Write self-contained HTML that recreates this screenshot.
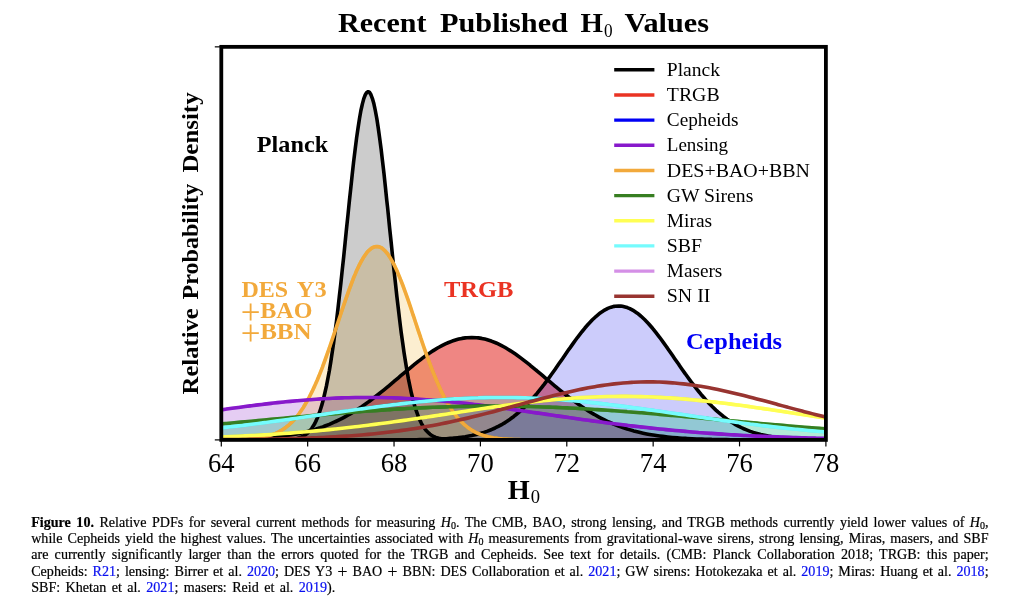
<!DOCTYPE html>
<html><head><meta charset="utf-8"><title>Recent Published H0 Values</title>
<style>
html,body{margin:0;padding:0;background:#fff;}
body{width:1024px;height:603px;position:relative;overflow:hidden;font-family:"Liberation Serif",serif;}
.ln{position:absolute;left:31.2px;width:957.4px;font-size:14.1px;line-height:16px;height:16px;color:#000;text-align:justify;text-align-last:justify;white-space:nowrap;-webkit-text-stroke:0.2px;}
.ln.last{width:304px;}
.ln sub{font-size:10px;vertical-align:baseline;position:relative;top:2.2px;line-height:0;}
.b{color:#0a10f0;}
.p{font-size:18.4px;line-height:0;position:relative;top:2.6px;-webkit-text-stroke:0;}
</style></head><body>
<svg width="1024" height="603" viewBox="0 0 1024 603" style="position:absolute;left:0;top:0">
<defs><clipPath id="ax"><rect x="221.3" y="46.85" width="604.5999999999999" height="393.04999999999995"/></clipPath><filter id="p3" x="0" y="0" width="1024" height="603" filterUnits="userSpaceOnUse" color-interpolation-filters="linearRGB"><feColorMatrix type="matrix" values="0.8225 0.1774 0 0 0  0.0332 0.9669 0 0 0  0.0171 0.0724 0.9108 0 0  0 0 0 1 0"/></filter></defs>
<g filter="url(#p3)"><g clip-path="url(#ax)" fill="none" stroke-width="3.6" stroke-linejoin="round">
<rect x="219.3" y="44.85" width="608.5999999999999" height="397.04999999999995" fill="#fff" stroke="none"/>
<path d="M212.7,439.70 L217.3,439.65 L219.1,439.63 L222.2,439.58 L225.6,439.53 L227.1,439.50 L232.0,439.41 L232.1,439.40 L236.8,439.29 L238.6,439.24 L241.7,439.14 L245.1,439.03 L246.6,438.97 L251.5,438.76 L256.4,438.51 L258.0,438.42 L261.3,438.22 L264.5,438.00 L266.2,437.87 L271.0,437.47 L271.1,437.46 L276.0,436.97 L277.4,436.82 L280.9,436.41 L283.9,436.02 L285.8,435.76 L290.4,435.06 L290.7,435.01 L295.6,434.15 L296.9,433.90 L300.5,433.17 L303.4,432.53 L305.4,432.05 L309.8,430.91 L310.3,430.79 L315.2,429.38 L316.3,429.02 L320.1,427.80 L322.8,426.84 L324.9,426.04 L329.3,424.34 L329.8,424.10 L334.7,421.96 L335.7,421.50 L339.6,419.63 L342.2,418.32 L344.5,417.10 L348.7,414.78 L349.4,414.36 L354.3,411.43 L355.2,410.89 L359.2,408.29 L361.7,406.65 L364.1,404.97 L368.1,402.09 L369.0,401.46 L373.9,397.80 L374.6,397.25 L378.8,393.99 L381.1,392.15 L383.7,390.05 L387.6,386.86 L388.6,386.02 L393.5,381.92 L394.0,381.43 L398.4,377.78 L400.5,375.96 L403.3,373.65 L407.0,370.51 L408.2,369.55 L413.0,365.53 L413.5,365.18 L417.9,361.63 L420.0,360.07 L422.8,357.90 L426.4,355.27 L427.7,354.36 L432.6,351.07 L432.9,350.88 L437.5,348.05 L439.4,346.99 L442.4,345.36 L445.9,343.67 L447.3,343.02 L452.2,341.07 L452.3,341.01 L457.1,339.52 L458.8,339.07 L462.0,338.39 L465.3,337.89 L466.9,337.72 L471.8,337.49 L476.7,337.72 L478.3,337.89 L481.6,338.39 L484.7,339.07 L486.5,339.52 L491.2,341.01 L491.4,341.07 L496.2,343.02 L497.7,343.67 L501.1,345.36 L504.2,346.99 L506.0,348.05 L510.6,350.88 L510.9,351.07 L515.8,354.36 L517.1,355.27 L520.7,357.90 L523.6,360.07 L525.6,361.63 L530.1,365.18 L530.5,365.53 L535.4,369.55 L536.6,370.51 L540.3,373.65 L543.0,375.96 L545.2,377.78 L549.5,381.43 L550.1,381.92 L555.0,386.02 L556.0,386.86 L559.9,390.05 L562.5,392.15 L564.8,393.99 L568.9,397.25 L569.7,397.80 L574.6,401.46 L575.4,402.09 L579.5,404.97 L581.9,406.65 L584.3,408.29 L588.4,410.89 L589.2,411.43 L594.1,414.36 L594.9,414.78 L599.0,417.10 L601.3,418.32 L603.9,419.63 L607.8,421.50 L608.8,421.96 L613.7,424.10 L614.3,424.34 L618.6,426.04 L620.8,426.84 L623.5,427.80 L627.2,429.02 L628.4,429.38 L633.3,430.79 L633.7,430.91 L638.2,432.05 L640.2,432.53 L643.1,433.17 L646.7,433.90 L648.0,434.15 L652.9,435.01 L653.2,435.06 L657.8,435.76 L659.6,436.02 L662.7,436.41 L666.1,436.82 L667.6,436.97 L672.4,437.46 L672.6,437.47 L677.3,437.87 L679.1,438.00 L682.2,438.22 L685.5,438.42 L687.1,438.51 L692.0,438.76 L692.0,438.76 L696.9,438.97 L698.5,439.03 L701.8,439.14 L705.0,439.24 L706.7,439.29 L711.5,439.40 L711.6,439.41 L716.5,439.50 L717.9,439.53 L721.4,439.58 L724.4,439.63 L726.3,439.65 L730.9,439.70 L731.2,439.70 L736.1,439.74 L737.4,439.75 L741.0,439.78 L743.8,439.79 L745.9,439.80 L750.3,439.82 L750.8,439.83 L755.7,439.84 L756.8,439.85 L760.5,439.86 L763.3,439.86 L765.4,439.87 L769.8,439.87 L776.2,439.88 L782.7,439.89 L789.2,439.89 L795.7,439.89 L802.1,439.90 L808.6,439.90 L815.1,439.90 L821.6,439.90 L828.1,439.90 L834.5,439.90 L834.5,439.9 L212.7,439.9 Z" fill="#ff0000" fill-opacity="0.5" stroke="none"/>
<path d="M212.7,439.90 L219.1,439.90 L225.6,439.90 L232.1,439.90 L238.6,439.90 L245.1,439.90 L251.5,439.90 L258.0,439.90 L264.5,439.90 L271.0,439.90 L277.4,439.90 L283.9,439.90 L290.4,439.90 L296.9,439.90 L303.4,439.90 L309.8,439.90 L316.3,439.90 L322.8,439.90 L329.3,439.90 L335.7,439.90 L342.2,439.90 L348.7,439.90 L355.2,439.90 L361.7,439.90 L368.1,439.89 L374.6,439.89 L381.1,439.88 L387.6,439.87 L394.0,439.86 L397.8,439.84 L400.5,439.83 L401.5,439.82 L405.3,439.80 L407.0,439.79 L409.0,439.77 L412.8,439.74 L413.5,439.73 L416.5,439.69 L420.0,439.64 L420.2,439.64 L424.0,439.57 L426.4,439.52 L427.7,439.49 L431.5,439.38 L432.9,439.34 L435.2,439.25 L439.0,439.10 L439.4,439.08 L442.7,438.91 L445.9,438.72 L446.4,438.68 L450.2,438.41 L452.3,438.23 L453.9,438.09 L457.7,437.70 L458.8,437.57 L461.4,437.24 L465.2,436.70 L465.3,436.68 L468.9,436.07 L471.8,435.52 L472.6,435.34 L476.4,434.49 L478.3,434.02 L480.1,433.51 L483.9,432.38 L484.7,432.10 L487.6,431.10 L491.2,429.70 L491.4,429.64 L495.1,427.99 L497.7,426.73 L498.8,426.14 L502.6,424.07 L504.2,423.13 L506.3,421.78 L510.1,419.24 L510.6,418.82 L513.8,416.45 L517.1,413.76 L517.6,413.40 L521.3,410.08 L523.6,407.91 L525.0,406.51 L528.8,402.66 L530.1,401.27 L532.5,398.56 L536.3,394.22 L536.6,393.87 L540.0,389.64 L543.0,385.78 L543.8,384.84 L547.5,379.86 L549.5,377.11 L551.2,374.71 L555.0,369.44 L556.0,368.00 L558.7,364.08 L562.5,358.67 L566.2,353.26 L568.9,349.34 L570.0,347.91 L573.7,342.65 L575.4,340.28 L577.4,337.55 L581.2,332.66 L581.9,331.75 L584.9,328.04 L588.4,324.05 L588.7,323.73 L592.4,319.79 L594.9,317.44 L596.2,316.27 L599.9,313.21 L601.3,312.17 L603.6,310.65 L607.4,308.63 L607.8,308.43 L611.1,307.16 L614.3,306.37 L614.9,306.27 L618.6,305.98 L620.8,306.08 L622.4,306.27 L626.1,307.16 L627.2,307.55 L629.8,308.63 L633.6,310.65 L633.7,310.74 L637.3,313.21 L640.2,315.53 L641.1,316.27 L644.8,319.79 L646.7,321.71 L648.6,323.73 L652.3,328.04 L653.2,329.08 L656.0,332.66 L659.6,337.36 L659.8,337.55 L663.5,342.65 L666.1,346.28 L667.3,347.91 L671.0,353.26 L672.6,355.55 L674.7,358.67 L678.5,364.08 L679.1,364.91 L682.2,369.44 L685.5,374.11 L686.0,374.71 L689.7,379.86 L692.0,382.95 L693.5,384.84 L697.2,389.64 L698.5,391.25 L700.9,394.22 L704.7,398.56 L705.0,398.89 L708.4,402.66 L711.5,405.79 L712.2,406.51 L715.9,410.08 L717.9,411.90 L719.7,413.40 L723.4,416.45 L724.4,417.22 L727.1,419.24 L730.9,421.78 L730.9,421.78 L734.6,424.07 L737.4,425.61 L738.4,426.14 L742.1,427.99 L743.8,428.78 L745.9,429.64 L749.6,431.10 L750.3,431.36 L753.3,432.38 L756.8,433.43 L757.1,433.51 L760.8,434.49 L763.3,435.06 L764.6,435.34 L768.3,436.07 L769.8,436.33 L772.1,436.70 L775.8,437.24 L776.2,437.30 L779.5,437.70 L782.7,438.03 L783.3,438.09 L787.0,438.41 L789.2,438.58 L790.8,438.68 L794.5,438.91 L795.7,438.97 L798.3,439.10 L802.0,439.25 L802.1,439.26 L805.7,439.38 L808.6,439.46 L809.5,439.49 L813.2,439.57 L815.1,439.61 L817.0,439.64 L820.7,439.69 L821.6,439.71 L824.5,439.74 L828.1,439.77 L828.2,439.77 L831.9,439.80 L834.5,439.82 L834.5,439.9 L212.7,439.9 Z" fill="#0000ff" fill-opacity="0.2" stroke="none"/>
<path d="M212.7,411.02 L214.7,410.73 L219.1,410.10 L225.6,409.19 L226.5,409.07 L232.1,408.29 L238.3,407.45 L238.6,407.41 L245.1,406.55 L250.1,405.90 L251.5,405.71 L258.0,404.90 L261.9,404.43 L264.5,404.12 L271.0,403.37 L273.7,403.07 L277.4,402.66 L283.9,401.98 L285.5,401.82 L290.4,401.34 L296.9,400.74 L297.3,400.70 L303.4,400.19 L309.1,399.73 L309.8,399.68 L316.3,399.22 L320.9,398.92 L322.8,398.81 L329.3,398.45 L332.7,398.28 L335.7,398.14 L342.2,397.89 L344.5,397.81 L348.7,397.69 L355.2,397.55 L356.3,397.53 L361.7,397.46 L368.1,397.44 L374.6,397.46 L379.9,397.53 L381.1,397.55 L387.6,397.69 L391.7,397.81 L394.0,397.89 L400.5,398.14 L403.5,398.28 L407.0,398.45 L413.5,398.81 L415.3,398.92 L420.0,399.22 L426.4,399.68 L427.2,399.73 L432.9,400.19 L439.0,400.70 L439.4,400.74 L445.9,401.34 L450.8,401.82 L452.3,401.98 L458.8,402.66 L462.6,403.07 L465.3,403.37 L471.8,404.12 L474.4,404.43 L478.3,404.90 L484.7,405.71 L486.2,405.90 L491.2,406.55 L497.7,407.41 L498.0,407.45 L504.2,408.29 L509.8,409.07 L510.6,409.19 L517.1,410.10 L521.6,410.73 L523.6,411.02 L530.1,411.95 L533.4,412.43 L536.6,412.89 L543.0,413.83 L545.2,414.14 L549.5,414.77 L556.0,415.71 L557.0,415.86 L562.5,416.65 L568.8,417.56 L568.9,417.58 L575.4,418.50 L580.6,419.23 L581.9,419.41 L588.4,420.31 L592.4,420.86 L594.9,421.19 L601.3,422.06 L604.2,422.44 L607.8,422.91 L614.3,423.74 L616.0,423.96 L620.8,424.56 L627.2,425.35 L627.8,425.42 L633.7,426.11 L639.6,426.79 L640.2,426.86 L646.7,427.58 L651.4,428.09 L653.2,428.28 L659.6,428.95 L663.2,429.31 L666.1,429.60 L672.6,430.22 L675.0,430.45 L679.1,430.81 L685.5,431.39 L686.8,431.50 L692.0,431.93 L698.5,432.45 L698.6,432.46 L705.0,432.95 L710.5,433.35 L711.5,433.42 L717.9,433.87 L722.3,434.15 L724.4,434.29 L730.9,434.69 L734.1,434.88 L737.4,435.07 L743.8,435.43 L745.9,435.54 L750.3,435.77 L756.8,436.08 L757.7,436.12 L763.3,436.38 L769.5,436.65 L769.8,436.66 L776.2,436.92 L781.3,437.11 L782.7,437.16 L789.2,437.39 L793.1,437.52 L795.7,437.60 L802.1,437.79 L804.9,437.87 L808.6,437.98 L815.1,438.15 L816.7,438.18 L821.6,438.30 L828.1,438.45 L828.5,438.45 L834.5,438.58 L834.5,439.9 L212.7,439.9 Z" fill="#9400d3" fill-opacity="0.2" stroke="none"/>
<path d="M212.7,424.66 L219.1,424.09 L225.6,423.52 L226.5,423.44 L232.1,422.94 L238.6,422.36 L241.3,422.11 L245.1,421.77 L251.5,421.18 L256.1,420.76 L258.0,420.59 L264.5,419.99 L271.0,419.40 L271.0,419.40 L277.4,418.80 L283.9,418.20 L285.8,418.03 L290.4,417.61 L296.9,417.02 L300.6,416.68 L303.4,416.43 L309.8,415.85 L315.4,415.35 L316.3,415.28 L322.8,414.71 L329.3,414.15 L330.3,414.06 L335.7,413.60 L342.2,413.07 L345.1,412.83 L348.7,412.54 L355.2,412.03 L359.9,411.66 L361.7,411.53 L368.1,411.05 L374.6,410.59 L374.8,410.58 L381.1,410.14 L387.6,409.71 L389.6,409.58 L394.0,409.30 L400.5,408.92 L404.4,408.69 L407.0,408.55 L413.5,408.21 L419.2,407.92 L420.0,407.89 L426.4,407.59 L432.9,407.32 L434.1,407.28 L439.4,407.08 L445.9,406.86 L448.9,406.76 L452.3,406.66 L458.8,406.50 L463.7,406.39 L465.3,406.36 L471.8,406.25 L478.3,406.17 L478.5,406.17 L484.7,406.12 L491.2,406.10 L493.4,406.09 L497.7,406.10 L504.2,406.13 L508.2,406.17 L510.6,406.20 L517.1,406.29 L523.0,406.39 L523.6,406.41 L530.1,406.55 L536.6,406.73 L537.9,406.76 L543.0,406.93 L549.5,407.15 L552.7,407.28 L556.0,407.41 L562.5,407.69 L567.5,407.92 L568.9,407.99 L575.4,408.32 L581.9,408.67 L582.3,408.69 L588.4,409.04 L594.9,409.44 L597.2,409.58 L601.3,409.85 L607.8,410.29 L612.0,410.58 L614.3,410.74 L620.8,411.21 L626.8,411.66 L627.2,411.70 L633.7,412.20 L640.2,412.71 L641.6,412.83 L646.7,413.24 L653.2,413.78 L656.5,414.06 L659.6,414.34 L666.1,414.90 L671.3,415.35 L672.6,415.47 L679.1,416.04 L685.5,416.63 L686.1,416.68 L692.0,417.21 L698.5,417.81 L700.9,418.03 L705.0,418.40 L711.5,419.00 L715.8,419.40 L717.9,419.59 L724.4,420.19 L730.6,420.76 L730.9,420.79 L737.4,421.38 L743.8,421.97 L745.4,422.11 L750.3,422.56 L756.8,423.14 L760.3,423.44 L763.3,423.71 L769.8,424.28 L775.1,424.74 L776.2,424.84 L782.7,425.40 L789.2,425.94 L789.9,426.00 L795.7,426.48 L802.1,427.00 L804.7,427.21 L808.6,427.52 L815.1,428.03 L819.6,428.37 L821.6,428.52 L828.1,429.00 L834.4,429.47 L834.5,429.48 L834.5,439.9 L212.7,439.9 Z" fill="#008000" fill-opacity="0.2" stroke="none"/>
<path d="M212.7,439.87 L219.1,439.85 L221.3,439.84 L223.9,439.82 L225.6,439.80 L226.5,439.79 L229.1,439.76 L231.7,439.72 L232.1,439.71 L234.3,439.67 L236.8,439.60 L238.6,439.55 L239.4,439.52 L242.0,439.42 L244.6,439.30 L245.1,439.28 L247.2,439.15 L249.8,438.97 L251.5,438.82 L252.4,438.74 L255.0,438.47 L257.6,438.14 L258.0,438.08 L260.2,437.75 L262.8,437.28 L264.5,436.92 L265.3,436.72 L267.9,436.06 L270.5,435.28 L271.0,435.14 L273.1,434.37 L275.7,433.31 L277.4,432.51 L278.3,432.08 L280.9,430.67 L283.5,429.04 L283.9,428.75 L286.1,427.19 L288.7,425.08 L290.4,423.52 L291.3,422.70 L293.9,420.03 L296.4,417.04 L296.9,416.51 L299.0,413.72 L301.6,410.05 L303.4,407.41 L304.2,406.02 L306.8,401.62 L309.4,396.83 L309.8,396.00 L312.0,391.66 L314.6,386.12 L316.3,382.21 L317.2,380.19 L319.8,373.91 L322.4,367.30 L322.8,366.16 L324.9,360.37 L327.5,353.17 L329.3,348.24 L330.1,345.74 L332.7,338.12 L335.3,330.38 L335.7,329.08 L337.9,322.57 L340.5,314.76 L342.2,309.59 L343.1,307.02 L345.7,299.43 L348.3,292.06 L348.7,290.86 L350.9,285.00 L353.4,278.32 L355.2,274.12 L356.0,272.10 L358.6,266.41 L361.2,261.33 L361.7,260.54 L363.8,256.91 L366.4,253.21 L368.1,251.17 L369.0,250.29 L371.6,248.17 L374.2,246.88 L374.6,246.75 L376.8,246.46 L379.4,246.88 L381.1,247.65 L382.0,248.17 L384.5,250.29 L387.1,253.21 L387.6,253.78 L389.7,256.91 L392.3,261.33 L394.0,264.65 L394.9,266.41 L397.5,272.10 L400.1,278.32 L400.5,279.41 L402.7,285.00 L405.3,292.06 L407.0,296.95 L407.9,299.43 L410.5,307.02 L413.0,314.76 L413.5,316.06 L415.6,322.57 L418.2,330.38 L420.0,335.55 L420.8,338.12 L423.4,345.74 L426.0,353.17 L426.4,354.39 L428.6,360.37 L431.2,367.30 L432.9,371.75 L433.8,373.91 L436.4,380.19 L439.0,386.12 L439.4,387.07 L441.5,391.66 L444.1,396.83 L445.9,400.07 L446.7,401.62 L449.3,406.02 L451.9,410.05 L452.3,410.69 L454.5,413.72 L457.1,417.04 L458.8,419.07 L459.7,420.03 L462.3,422.70 L464.9,425.08 L465.3,425.45 L467.5,427.19 L470.0,429.04 L471.8,430.15 L472.6,430.67 L475.2,432.08 L477.8,433.31 L478.3,433.50 L480.4,434.37 L483.0,435.28 L484.7,435.82 L485.6,436.06 L488.2,436.72 L490.8,437.28 L491.2,437.37 L493.4,437.75 L496.0,438.14 L497.7,438.37 L498.6,438.47 L501.1,438.74 L503.7,438.97 L504.2,439.00 L506.3,439.15 L508.9,439.30 L510.6,439.39 L511.5,439.42 L514.1,439.52 L516.7,439.60 L517.1,439.61 L519.3,439.67 L521.9,439.72 L523.6,439.75 L524.5,439.76 L527.1,439.79 L529.6,439.82 L530.1,439.82 L532.2,439.84 L536.6,439.86 L543.0,439.88 L549.5,439.89 L556.0,439.90 L562.5,439.90 L568.9,439.90 L575.4,439.90 L581.9,439.90 L588.4,439.90 L594.9,439.90 L601.3,439.90 L607.8,439.90 L614.3,439.90 L620.8,439.90 L627.2,439.90 L633.7,439.90 L640.2,439.90 L646.7,439.90 L653.2,439.90 L659.6,439.90 L666.1,439.90 L672.6,439.90 L679.1,439.90 L685.5,439.90 L692.0,439.90 L698.5,439.90 L705.0,439.90 L711.5,439.90 L717.9,439.90 L724.4,439.90 L730.9,439.90 L737.4,439.90 L743.8,439.90 L750.3,439.90 L756.8,439.90 L763.3,439.90 L769.8,439.90 L776.2,439.90 L782.7,439.90 L789.2,439.90 L795.7,439.90 L802.1,439.90 L808.6,439.90 L815.1,439.90 L821.6,439.90 L828.1,439.90 L834.5,439.90 L834.5,439.9 L212.7,439.9 Z" fill="#ffa500" fill-opacity="0.2" stroke="none"/>
<path d="M212.7,428.73 L218.7,428.09 L219.1,428.05 L225.6,427.34 L230.5,426.79 L232.1,426.61 L238.6,425.86 L242.3,425.42 L245.1,425.09 L251.5,424.29 L254.1,423.96 L258.0,423.47 L264.5,422.63 L265.9,422.44 L271.0,421.78 L277.4,420.90 L277.7,420.86 L283.9,420.01 L289.5,419.23 L290.4,419.11 L296.9,418.20 L301.3,417.56 L303.4,417.27 L309.8,416.34 L313.1,415.86 L316.3,415.40 L322.8,414.46 L324.9,414.14 L329.3,413.52 L335.7,412.58 L336.7,412.43 L342.2,411.64 L348.6,410.73 L348.7,410.71 L355.2,409.79 L360.4,409.07 L361.7,408.89 L368.1,407.99 L372.2,407.45 L374.6,407.12 L381.1,406.27 L384.0,405.90 L387.6,405.44 L394.0,404.64 L395.8,404.43 L400.5,403.87 L407.0,403.13 L407.6,403.07 L413.5,402.43 L419.4,401.82 L420.0,401.76 L426.4,401.13 L431.2,400.70 L432.9,400.55 L439.4,400.01 L443.0,399.73 L445.9,399.52 L452.3,399.07 L454.8,398.92 L458.8,398.68 L465.3,398.34 L466.6,398.28 L471.8,398.05 L478.3,397.82 L478.4,397.81 L484.7,397.64 L490.2,397.53 L491.2,397.52 L497.7,397.45 L502.0,397.44 L504.2,397.44 L510.6,397.49 L513.8,397.53 L517.1,397.59 L523.6,397.75 L525.6,397.81 L530.1,397.97 L536.6,398.24 L537.4,398.28 L543.0,398.56 L549.2,398.92 L549.5,398.94 L556.0,399.36 L561.0,399.73 L562.5,399.84 L568.9,400.37 L572.8,400.70 L575.4,400.93 L581.9,401.55 L584.6,401.82 L588.4,402.20 L594.9,402.89 L596.4,403.07 L601.3,403.62 L607.8,404.38 L608.2,404.43 L614.3,405.17 L620.0,405.90 L620.8,405.99 L627.2,406.83 L631.9,407.45 L633.7,407.70 L640.2,408.59 L643.7,409.07 L646.7,409.49 L653.2,410.40 L655.5,410.73 L659.6,411.33 L666.1,412.26 L667.3,412.43 L672.6,413.20 L679.1,414.14 L679.1,414.14 L685.5,415.09 L690.9,415.86 L692.0,416.03 L698.5,416.96 L702.7,417.56 L705.0,417.89 L711.5,418.81 L714.5,419.23 L717.9,419.71 L724.4,420.61 L726.3,420.86 L730.9,421.49 L737.4,422.35 L738.1,422.44 L743.8,423.19 L749.9,423.96 L750.3,424.02 L756.8,424.82 L761.7,425.42 L763.3,425.60 L769.8,426.37 L773.5,426.79 L776.2,427.10 L782.7,427.82 L785.3,428.09 L789.2,428.50 L795.7,429.17 L797.1,429.31 L802.1,429.81 L808.6,430.42 L808.9,430.45 L815.1,431.01 L820.7,431.50 L821.6,431.57 L828.1,432.11 L832.5,432.46 L834.5,432.62 L834.5,439.9 L212.7,439.9 Z" fill="#00ffff" fill-opacity="0.2" stroke="none"/>
<path d="M212.7,439.90 L219.1,439.90 L225.6,439.90 L232.1,439.90 L238.6,439.90 L245.1,439.90 L251.5,439.90 L258.0,439.90 L264.5,439.90 L271.0,439.89 L277.4,439.85 L281.8,439.78 L283.2,439.75 L283.9,439.73 L284.6,439.70 L286.1,439.65 L287.5,439.57 L289.0,439.48 L290.4,439.37 L290.4,439.37 L291.8,439.22 L293.3,439.04 L294.7,438.82 L296.2,438.55 L296.9,438.40 L297.6,438.22 L299.0,437.82 L300.5,437.33 L301.9,436.74 L303.4,436.03 L303.4,436.03 L304.8,435.19 L306.2,434.18 L307.7,432.99 L309.1,431.59 L309.8,430.80 L310.6,429.95 L312.0,428.04 L313.4,425.83 L314.9,423.28 L316.3,420.35 L317.7,417.01 L319.2,413.22 L320.6,408.94 L322.1,404.13 L322.8,401.51 L323.5,398.75 L324.9,392.78 L326.4,386.17 L327.8,378.92 L329.3,370.99 L330.7,362.38 L332.1,353.08 L333.6,343.09 L335.0,332.43 L335.7,326.86 L336.5,321.13 L337.9,309.22 L339.3,296.75 L340.8,283.79 L342.2,270.41 L342.2,270.41 L343.7,256.70 L345.1,242.77 L346.5,228.71 L348.0,214.65 L348.7,207.66 L349.4,200.72 L350.9,187.05 L352.3,173.80 L353.7,161.08 L355.2,149.06 L355.2,149.06 L356.6,137.86 L358.1,127.62 L359.5,118.47 L360.9,110.52 L361.7,107.02 L362.4,103.86 L363.8,98.59 L365.3,94.78 L366.7,92.47 L368.1,91.70 L369.6,92.47 L371.0,94.78 L372.4,98.59 L373.9,103.86 L374.6,107.02 L375.3,110.52 L376.8,118.47 L378.2,127.62 L379.6,137.86 L381.1,149.06 L382.5,161.08 L384.0,173.80 L385.4,187.05 L386.8,200.72 L387.6,207.66 L388.3,214.65 L389.7,228.71 L391.2,242.77 L392.6,256.70 L394.0,270.41 L395.5,283.79 L396.9,296.75 L398.4,309.22 L399.8,321.13 L400.5,326.86 L401.2,332.43 L402.7,343.09 L404.1,353.08 L405.6,362.38 L407.0,370.99 L407.0,370.99 L408.4,378.92 L409.9,386.17 L411.3,392.78 L412.8,398.75 L413.5,401.51 L414.2,404.13 L415.6,408.94 L417.1,413.22 L418.5,417.01 L420.0,420.35 L420.0,420.35 L421.4,423.28 L422.8,425.83 L424.3,428.04 L425.7,429.95 L426.4,430.80 L427.2,431.59 L428.6,432.99 L430.0,434.18 L431.5,435.19 L432.9,436.03 L434.3,436.74 L435.8,437.33 L437.2,437.82 L438.7,438.22 L439.4,438.40 L440.1,438.55 L441.5,438.82 L443.0,439.04 L444.4,439.22 L445.9,439.37 L447.3,439.48 L448.7,439.57 L450.2,439.65 L451.6,439.70 L452.3,439.73 L453.1,439.75 L454.5,439.78 L458.8,439.85 L465.3,439.89 L471.8,439.90 L478.3,439.90 L484.7,439.90 L491.2,439.90 L497.7,439.90 L504.2,439.90 L510.6,439.90 L517.1,439.90 L523.6,439.90 L530.1,439.90 L536.6,439.90 L543.0,439.90 L549.5,439.90 L556.0,439.90 L562.5,439.90 L568.9,439.90 L575.4,439.90 L581.9,439.90 L588.4,439.90 L594.9,439.90 L601.3,439.90 L607.8,439.90 L614.3,439.90 L620.8,439.90 L627.2,439.90 L633.7,439.90 L640.2,439.90 L646.7,439.90 L653.2,439.90 L659.6,439.90 L666.1,439.90 L672.6,439.90 L679.1,439.90 L685.5,439.90 L692.0,439.90 L698.5,439.90 L705.0,439.90 L711.5,439.90 L717.9,439.90 L724.4,439.90 L730.9,439.90 L737.4,439.90 L743.8,439.90 L750.3,439.90 L756.8,439.90 L763.3,439.90 L769.8,439.90 L776.2,439.90 L782.7,439.90 L789.2,439.90 L795.7,439.90 L802.1,439.90 L808.6,439.90 L815.1,439.90 L821.6,439.90 L828.1,439.90 L834.5,439.90 L834.5,439.9 L212.7,439.9 Z" fill="#000" fill-opacity="0.2" stroke="none"/>
<path d="M212.7,439.90 L219.1,439.90 L225.6,439.90 L232.1,439.90 L238.6,439.90 L245.1,439.90 L251.5,439.90 L258.0,439.90 L264.5,439.90 L271.0,439.89 L277.4,439.85 L281.8,439.78 L283.2,439.75 L283.9,439.73 L284.6,439.70 L286.1,439.65 L287.5,439.57 L289.0,439.48 L290.4,439.37 L290.4,439.37 L291.8,439.22 L293.3,439.04 L294.7,438.82 L296.2,438.55 L296.9,438.40 L297.6,438.22 L299.0,437.82 L300.5,437.33 L301.9,436.74 L303.4,436.03 L303.4,436.03 L304.8,435.19 L306.2,434.18 L307.7,432.99 L309.1,431.59 L309.8,430.80 L310.6,429.95 L312.0,428.04 L313.4,425.83 L314.9,423.28 L316.3,420.35 L317.7,417.01 L319.2,413.22 L320.6,408.94 L322.1,404.13 L322.8,401.51 L323.5,398.75 L324.9,392.78 L326.4,386.17 L327.8,378.92 L329.3,370.99 L330.7,362.38 L332.1,353.08 L333.6,343.09 L335.0,332.43 L335.7,326.86 L336.5,321.13 L337.9,309.22 L339.3,296.75 L340.8,283.79 L342.2,270.41 L342.2,270.41 L343.7,256.70 L345.1,242.77 L346.5,228.71 L348.0,214.65 L348.7,207.66 L349.4,200.72 L350.9,187.05 L352.3,173.80 L353.7,161.08 L355.2,149.06 L355.2,149.06 L356.6,137.86 L358.1,127.62 L359.5,118.47 L360.9,110.52 L361.7,107.02 L362.4,103.86 L363.8,98.59 L365.3,94.78 L366.7,92.47 L368.1,91.70 L369.6,92.47 L371.0,94.78 L372.4,98.59 L373.9,103.86 L374.6,107.02 L375.3,110.52 L376.8,118.47 L378.2,127.62 L379.6,137.86 L381.1,149.06 L382.5,161.08 L384.0,173.80 L385.4,187.05 L386.8,200.72 L387.6,207.66 L388.3,214.65 L389.7,228.71 L391.2,242.77 L392.6,256.70 L394.0,270.41 L395.5,283.79 L396.9,296.75 L398.4,309.22 L399.8,321.13 L400.5,326.86 L401.2,332.43 L402.7,343.09 L404.1,353.08 L405.6,362.38 L407.0,370.99 L407.0,370.99 L408.4,378.92 L409.9,386.17 L411.3,392.78 L412.8,398.75 L413.5,401.51 L414.2,404.13 L415.6,408.94 L417.1,413.22 L418.5,417.01 L420.0,420.35 L420.0,420.35 L421.4,423.28 L422.8,425.83 L424.3,428.04 L425.7,429.95 L426.4,430.80 L427.2,431.59 L428.6,432.99 L430.0,434.18 L431.5,435.19 L432.9,436.03 L434.3,436.74 L435.8,437.33 L437.2,437.82 L438.7,438.22 L439.4,438.40 L440.1,438.55 L441.5,438.82 L443.0,439.04 L444.4,439.22 L445.9,439.37 L447.3,439.48 L448.7,439.57 L450.2,439.65 L451.6,439.70 L452.3,439.73 L453.1,439.75 L454.5,439.78 L458.8,439.85 L465.3,439.89 L471.8,439.90 L478.3,439.90 L484.7,439.90 L491.2,439.90 L497.7,439.90 L504.2,439.90 L510.6,439.90 L517.1,439.90 L523.6,439.90 L530.1,439.90 L536.6,439.90 L543.0,439.90 L549.5,439.90 L556.0,439.90 L562.5,439.90 L568.9,439.90 L575.4,439.90 L581.9,439.90 L588.4,439.90 L594.9,439.90 L601.3,439.90 L607.8,439.90 L614.3,439.90 L620.8,439.90 L627.2,439.90 L633.7,439.90 L640.2,439.90 L646.7,439.90 L653.2,439.90 L659.6,439.90 L666.1,439.90 L672.6,439.90 L679.1,439.90 L685.5,439.90 L692.0,439.90 L698.5,439.90 L705.0,439.90 L711.5,439.90 L717.9,439.90 L724.4,439.90 L730.9,439.90 L737.4,439.90 L743.8,439.90 L750.3,439.90 L756.8,439.90 L763.3,439.90 L769.8,439.90 L776.2,439.90 L782.7,439.90 L789.2,439.90 L795.7,439.90 L802.1,439.90 L808.6,439.90 L815.1,439.90 L821.6,439.90 L828.1,439.90 L834.5,439.90" stroke="#000"/>
<path d="M212.7,439.70 L217.3,439.65 L219.1,439.63 L222.2,439.58 L225.6,439.53 L227.1,439.50 L232.0,439.41 L232.1,439.40 L236.8,439.29 L238.6,439.24 L241.7,439.14 L245.1,439.03 L246.6,438.97 L251.5,438.76 L256.4,438.51 L258.0,438.42 L261.3,438.22 L264.5,438.00 L266.2,437.87 L271.0,437.47 L271.1,437.46 L276.0,436.97 L277.4,436.82 L280.9,436.41 L283.9,436.02 L285.8,435.76 L290.4,435.06 L290.7,435.01 L295.6,434.15 L296.9,433.90 L300.5,433.17 L303.4,432.53 L305.4,432.05 L309.8,430.91 L310.3,430.79 L315.2,429.38 L316.3,429.02 L320.1,427.80 L322.8,426.84 L324.9,426.04 L329.3,424.34 L329.8,424.10 L334.7,421.96 L335.7,421.50 L339.6,419.63 L342.2,418.32 L344.5,417.10 L348.7,414.78 L349.4,414.36 L354.3,411.43 L355.2,410.89 L359.2,408.29 L361.7,406.65 L364.1,404.97 L368.1,402.09 L369.0,401.46 L373.9,397.80 L374.6,397.25 L378.8,393.99 L381.1,392.15 L383.7,390.05 L387.6,386.86 L388.6,386.02 L393.5,381.92 L394.0,381.43 L398.4,377.78 L400.5,375.96 L403.3,373.65 L407.0,370.51 L408.2,369.55 L413.0,365.53 L413.5,365.18 L417.9,361.63 L420.0,360.07 L422.8,357.90 L426.4,355.27 L427.7,354.36 L432.6,351.07 L432.9,350.88 L437.5,348.05 L439.4,346.99 L442.4,345.36 L445.9,343.67 L447.3,343.02 L452.2,341.07 L452.3,341.01 L457.1,339.52 L458.8,339.07 L462.0,338.39 L465.3,337.89 L466.9,337.72 L471.8,337.49 L476.7,337.72 L478.3,337.89 L481.6,338.39 L484.7,339.07 L486.5,339.52 L491.2,341.01 L491.4,341.07 L496.2,343.02 L497.7,343.67 L501.1,345.36 L504.2,346.99 L506.0,348.05 L510.6,350.88 L510.9,351.07 L515.8,354.36 L517.1,355.27 L520.7,357.90 L523.6,360.07 L525.6,361.63 L530.1,365.18 L530.5,365.53 L535.4,369.55 L536.6,370.51 L540.3,373.65 L543.0,375.96 L545.2,377.78 L549.5,381.43 L550.1,381.92 L555.0,386.02 L556.0,386.86 L559.9,390.05 L562.5,392.15 L564.8,393.99 L568.9,397.25 L569.7,397.80 L574.6,401.46 L575.4,402.09 L579.5,404.97 L581.9,406.65 L584.3,408.29 L588.4,410.89 L589.2,411.43 L594.1,414.36 L594.9,414.78 L599.0,417.10 L601.3,418.32 L603.9,419.63 L607.8,421.50 L608.8,421.96 L613.7,424.10 L614.3,424.34 L618.6,426.04 L620.8,426.84 L623.5,427.80 L627.2,429.02 L628.4,429.38 L633.3,430.79 L633.7,430.91 L638.2,432.05 L640.2,432.53 L643.1,433.17 L646.7,433.90 L648.0,434.15 L652.9,435.01 L653.2,435.06 L657.8,435.76 L659.6,436.02 L662.7,436.41 L666.1,436.82 L667.6,436.97 L672.4,437.46 L672.6,437.47 L677.3,437.87 L679.1,438.00 L682.2,438.22 L685.5,438.42 L687.1,438.51 L692.0,438.76 L692.0,438.76 L696.9,438.97 L698.5,439.03 L701.8,439.14 L705.0,439.24 L706.7,439.29 L711.5,439.40 L711.6,439.41 L716.5,439.50 L717.9,439.53 L721.4,439.58 L724.4,439.63 L726.3,439.65 L730.9,439.70 L731.2,439.70 L736.1,439.74 L737.4,439.75 L741.0,439.78 L743.8,439.79 L745.9,439.80 L750.3,439.82 L750.8,439.83 L755.7,439.84 L756.8,439.85 L760.5,439.86 L763.3,439.86 L765.4,439.87 L769.8,439.87 L776.2,439.88 L782.7,439.89 L789.2,439.89 L795.7,439.89 L802.1,439.90 L808.6,439.90 L815.1,439.90 L821.6,439.90 L828.1,439.90 L834.5,439.90" stroke="#000"/>
<path d="M212.7,439.90 L219.1,439.90 L225.6,439.90 L232.1,439.90 L238.6,439.90 L245.1,439.90 L251.5,439.90 L258.0,439.90 L264.5,439.90 L271.0,439.90 L277.4,439.90 L283.9,439.90 L290.4,439.90 L296.9,439.90 L303.4,439.90 L309.8,439.90 L316.3,439.90 L322.8,439.90 L329.3,439.90 L335.7,439.90 L342.2,439.90 L348.7,439.90 L355.2,439.90 L361.7,439.90 L368.1,439.89 L374.6,439.89 L381.1,439.88 L387.6,439.87 L394.0,439.86 L397.8,439.84 L400.5,439.83 L401.5,439.82 L405.3,439.80 L407.0,439.79 L409.0,439.77 L412.8,439.74 L413.5,439.73 L416.5,439.69 L420.0,439.64 L420.2,439.64 L424.0,439.57 L426.4,439.52 L427.7,439.49 L431.5,439.38 L432.9,439.34 L435.2,439.25 L439.0,439.10 L439.4,439.08 L442.7,438.91 L445.9,438.72 L446.4,438.68 L450.2,438.41 L452.3,438.23 L453.9,438.09 L457.7,437.70 L458.8,437.57 L461.4,437.24 L465.2,436.70 L465.3,436.68 L468.9,436.07 L471.8,435.52 L472.6,435.34 L476.4,434.49 L478.3,434.02 L480.1,433.51 L483.9,432.38 L484.7,432.10 L487.6,431.10 L491.2,429.70 L491.4,429.64 L495.1,427.99 L497.7,426.73 L498.8,426.14 L502.6,424.07 L504.2,423.13 L506.3,421.78 L510.1,419.24 L510.6,418.82 L513.8,416.45 L517.1,413.76 L517.6,413.40 L521.3,410.08 L523.6,407.91 L525.0,406.51 L528.8,402.66 L530.1,401.27 L532.5,398.56 L536.3,394.22 L536.6,393.87 L540.0,389.64 L543.0,385.78 L543.8,384.84 L547.5,379.86 L549.5,377.11 L551.2,374.71 L555.0,369.44 L556.0,368.00 L558.7,364.08 L562.5,358.67 L566.2,353.26 L568.9,349.34 L570.0,347.91 L573.7,342.65 L575.4,340.28 L577.4,337.55 L581.2,332.66 L581.9,331.75 L584.9,328.04 L588.4,324.05 L588.7,323.73 L592.4,319.79 L594.9,317.44 L596.2,316.27 L599.9,313.21 L601.3,312.17 L603.6,310.65 L607.4,308.63 L607.8,308.43 L611.1,307.16 L614.3,306.37 L614.9,306.27 L618.6,305.98 L620.8,306.08 L622.4,306.27 L626.1,307.16 L627.2,307.55 L629.8,308.63 L633.6,310.65 L633.7,310.74 L637.3,313.21 L640.2,315.53 L641.1,316.27 L644.8,319.79 L646.7,321.71 L648.6,323.73 L652.3,328.04 L653.2,329.08 L656.0,332.66 L659.6,337.36 L659.8,337.55 L663.5,342.65 L666.1,346.28 L667.3,347.91 L671.0,353.26 L672.6,355.55 L674.7,358.67 L678.5,364.08 L679.1,364.91 L682.2,369.44 L685.5,374.11 L686.0,374.71 L689.7,379.86 L692.0,382.95 L693.5,384.84 L697.2,389.64 L698.5,391.25 L700.9,394.22 L704.7,398.56 L705.0,398.89 L708.4,402.66 L711.5,405.79 L712.2,406.51 L715.9,410.08 L717.9,411.90 L719.7,413.40 L723.4,416.45 L724.4,417.22 L727.1,419.24 L730.9,421.78 L730.9,421.78 L734.6,424.07 L737.4,425.61 L738.4,426.14 L742.1,427.99 L743.8,428.78 L745.9,429.64 L749.6,431.10 L750.3,431.36 L753.3,432.38 L756.8,433.43 L757.1,433.51 L760.8,434.49 L763.3,435.06 L764.6,435.34 L768.3,436.07 L769.8,436.33 L772.1,436.70 L775.8,437.24 L776.2,437.30 L779.5,437.70 L782.7,438.03 L783.3,438.09 L787.0,438.41 L789.2,438.58 L790.8,438.68 L794.5,438.91 L795.7,438.97 L798.3,439.10 L802.0,439.25 L802.1,439.26 L805.7,439.38 L808.6,439.46 L809.5,439.49 L813.2,439.57 L815.1,439.61 L817.0,439.64 L820.7,439.69 L821.6,439.71 L824.5,439.74 L828.1,439.77 L828.2,439.77 L831.9,439.80 L834.5,439.82" stroke="#000"/>
<path d="M212.7,439.87 L219.1,439.85 L221.3,439.84 L223.9,439.82 L225.6,439.80 L226.5,439.79 L229.1,439.76 L231.7,439.72 L232.1,439.71 L234.3,439.67 L236.8,439.60 L238.6,439.55 L239.4,439.52 L242.0,439.42 L244.6,439.30 L245.1,439.28 L247.2,439.15 L249.8,438.97 L251.5,438.82 L252.4,438.74 L255.0,438.47 L257.6,438.14 L258.0,438.08 L260.2,437.75 L262.8,437.28 L264.5,436.92 L265.3,436.72 L267.9,436.06 L270.5,435.28 L271.0,435.14 L273.1,434.37 L275.7,433.31 L277.4,432.51 L278.3,432.08 L280.9,430.67 L283.5,429.04 L283.9,428.75 L286.1,427.19 L288.7,425.08 L290.4,423.52 L291.3,422.70 L293.9,420.03 L296.4,417.04 L296.9,416.51 L299.0,413.72 L301.6,410.05 L303.4,407.41 L304.2,406.02 L306.8,401.62 L309.4,396.83 L309.8,396.00 L312.0,391.66 L314.6,386.12 L316.3,382.21 L317.2,380.19 L319.8,373.91 L322.4,367.30 L322.8,366.16 L324.9,360.37 L327.5,353.17 L329.3,348.24 L330.1,345.74 L332.7,338.12 L335.3,330.38 L335.7,329.08 L337.9,322.57 L340.5,314.76 L342.2,309.59 L343.1,307.02 L345.7,299.43 L348.3,292.06 L348.7,290.86 L350.9,285.00 L353.4,278.32 L355.2,274.12 L356.0,272.10 L358.6,266.41 L361.2,261.33 L361.7,260.54 L363.8,256.91 L366.4,253.21 L368.1,251.17 L369.0,250.29 L371.6,248.17 L374.2,246.88 L374.6,246.75 L376.8,246.46 L379.4,246.88 L381.1,247.65 L382.0,248.17 L384.5,250.29 L387.1,253.21 L387.6,253.78 L389.7,256.91 L392.3,261.33 L394.0,264.65 L394.9,266.41 L397.5,272.10 L400.1,278.32 L400.5,279.41 L402.7,285.00 L405.3,292.06 L407.0,296.95 L407.9,299.43 L410.5,307.02 L413.0,314.76 L413.5,316.06 L415.6,322.57 L418.2,330.38 L420.0,335.55 L420.8,338.12 L423.4,345.74 L426.0,353.17 L426.4,354.39 L428.6,360.37 L431.2,367.30 L432.9,371.75 L433.8,373.91 L436.4,380.19 L439.0,386.12 L439.4,387.07 L441.5,391.66 L444.1,396.83 L445.9,400.07 L446.7,401.62 L449.3,406.02 L451.9,410.05 L452.3,410.69 L454.5,413.72 L457.1,417.04 L458.8,419.07 L459.7,420.03 L462.3,422.70 L464.9,425.08 L465.3,425.45 L467.5,427.19 L470.0,429.04 L471.8,430.15 L472.6,430.67 L475.2,432.08 L477.8,433.31 L478.3,433.50 L480.4,434.37 L483.0,435.28 L484.7,435.82 L485.6,436.06 L488.2,436.72 L490.8,437.28 L491.2,437.37 L493.4,437.75 L496.0,438.14 L497.7,438.37 L498.6,438.47 L501.1,438.74 L503.7,438.97 L504.2,439.00 L506.3,439.15 L508.9,439.30 L510.6,439.39 L511.5,439.42 L514.1,439.52 L516.7,439.60 L517.1,439.61 L519.3,439.67 L521.9,439.72 L523.6,439.75 L524.5,439.76 L527.1,439.79 L529.6,439.82 L530.1,439.82 L532.2,439.84 L536.6,439.86 L543.0,439.88 L549.5,439.89 L556.0,439.90 L562.5,439.90 L568.9,439.90 L575.4,439.90 L581.9,439.90 L588.4,439.90 L594.9,439.90 L601.3,439.90 L607.8,439.90 L614.3,439.90 L620.8,439.90 L627.2,439.90 L633.7,439.90 L640.2,439.90 L646.7,439.90 L653.2,439.90 L659.6,439.90 L666.1,439.90 L672.6,439.90 L679.1,439.90 L685.5,439.90 L692.0,439.90 L698.5,439.90 L705.0,439.90 L711.5,439.90 L717.9,439.90 L724.4,439.90 L730.9,439.90 L737.4,439.90 L743.8,439.90 L750.3,439.90 L756.8,439.90 L763.3,439.90 L769.8,439.90 L776.2,439.90 L782.7,439.90 L789.2,439.90 L795.7,439.90 L802.1,439.90 L808.6,439.90 L815.1,439.90 L821.6,439.90 L828.1,439.90 L834.5,439.90" stroke="#ffa500"/>
<path d="M212.7,411.02 L214.7,410.73 L219.1,410.10 L225.6,409.19 L226.5,409.07 L232.1,408.29 L238.3,407.45 L238.6,407.41 L245.1,406.55 L250.1,405.90 L251.5,405.71 L258.0,404.90 L261.9,404.43 L264.5,404.12 L271.0,403.37 L273.7,403.07 L277.4,402.66 L283.9,401.98 L285.5,401.82 L290.4,401.34 L296.9,400.74 L297.3,400.70 L303.4,400.19 L309.1,399.73 L309.8,399.68 L316.3,399.22 L320.9,398.92 L322.8,398.81 L329.3,398.45 L332.7,398.28 L335.7,398.14 L342.2,397.89 L344.5,397.81 L348.7,397.69 L355.2,397.55 L356.3,397.53 L361.7,397.46 L368.1,397.44 L374.6,397.46 L379.9,397.53 L381.1,397.55 L387.6,397.69 L391.7,397.81 L394.0,397.89 L400.5,398.14 L403.5,398.28 L407.0,398.45 L413.5,398.81 L415.3,398.92 L420.0,399.22 L426.4,399.68 L427.2,399.73 L432.9,400.19 L439.0,400.70 L439.4,400.74 L445.9,401.34 L450.8,401.82 L452.3,401.98 L458.8,402.66 L462.6,403.07 L465.3,403.37 L471.8,404.12 L474.4,404.43 L478.3,404.90 L484.7,405.71 L486.2,405.90 L491.2,406.55 L497.7,407.41 L498.0,407.45 L504.2,408.29 L509.8,409.07 L510.6,409.19 L517.1,410.10 L521.6,410.73 L523.6,411.02 L530.1,411.95 L533.4,412.43 L536.6,412.89 L543.0,413.83 L545.2,414.14 L549.5,414.77 L556.0,415.71 L557.0,415.86 L562.5,416.65 L568.8,417.56 L568.9,417.58 L575.4,418.50 L580.6,419.23 L581.9,419.41 L588.4,420.31 L592.4,420.86 L594.9,421.19 L601.3,422.06 L604.2,422.44 L607.8,422.91 L614.3,423.74 L616.0,423.96 L620.8,424.56 L627.2,425.35 L627.8,425.42 L633.7,426.11 L639.6,426.79 L640.2,426.86 L646.7,427.58 L651.4,428.09 L653.2,428.28 L659.6,428.95 L663.2,429.31 L666.1,429.60 L672.6,430.22 L675.0,430.45 L679.1,430.81 L685.5,431.39 L686.8,431.50 L692.0,431.93 L698.5,432.45 L698.6,432.46 L705.0,432.95 L710.5,433.35 L711.5,433.42 L717.9,433.87 L722.3,434.15 L724.4,434.29 L730.9,434.69 L734.1,434.88 L737.4,435.07 L743.8,435.43 L745.9,435.54 L750.3,435.77 L756.8,436.08 L757.7,436.12 L763.3,436.38 L769.5,436.65 L769.8,436.66 L776.2,436.92 L781.3,437.11 L782.7,437.16 L789.2,437.39 L793.1,437.52 L795.7,437.60 L802.1,437.79 L804.9,437.87 L808.6,437.98 L815.1,438.15 L816.7,438.18 L821.6,438.30 L828.1,438.45 L828.5,438.45 L834.5,438.58" stroke="#9400d3"/>
<path d="M212.7,424.66 L219.1,424.09 L225.6,423.52 L226.5,423.44 L232.1,422.94 L238.6,422.36 L241.3,422.11 L245.1,421.77 L251.5,421.18 L256.1,420.76 L258.0,420.59 L264.5,419.99 L271.0,419.40 L271.0,419.40 L277.4,418.80 L283.9,418.20 L285.8,418.03 L290.4,417.61 L296.9,417.02 L300.6,416.68 L303.4,416.43 L309.8,415.85 L315.4,415.35 L316.3,415.28 L322.8,414.71 L329.3,414.15 L330.3,414.06 L335.7,413.60 L342.2,413.07 L345.1,412.83 L348.7,412.54 L355.2,412.03 L359.9,411.66 L361.7,411.53 L368.1,411.05 L374.6,410.59 L374.8,410.58 L381.1,410.14 L387.6,409.71 L389.6,409.58 L394.0,409.30 L400.5,408.92 L404.4,408.69 L407.0,408.55 L413.5,408.21 L419.2,407.92 L420.0,407.89 L426.4,407.59 L432.9,407.32 L434.1,407.28 L439.4,407.08 L445.9,406.86 L448.9,406.76 L452.3,406.66 L458.8,406.50 L463.7,406.39 L465.3,406.36 L471.8,406.25 L478.3,406.17 L478.5,406.17 L484.7,406.12 L491.2,406.10 L493.4,406.09 L497.7,406.10 L504.2,406.13 L508.2,406.17 L510.6,406.20 L517.1,406.29 L523.0,406.39 L523.6,406.41 L530.1,406.55 L536.6,406.73 L537.9,406.76 L543.0,406.93 L549.5,407.15 L552.7,407.28 L556.0,407.41 L562.5,407.69 L567.5,407.92 L568.9,407.99 L575.4,408.32 L581.9,408.67 L582.3,408.69 L588.4,409.04 L594.9,409.44 L597.2,409.58 L601.3,409.85 L607.8,410.29 L612.0,410.58 L614.3,410.74 L620.8,411.21 L626.8,411.66 L627.2,411.70 L633.7,412.20 L640.2,412.71 L641.6,412.83 L646.7,413.24 L653.2,413.78 L656.5,414.06 L659.6,414.34 L666.1,414.90 L671.3,415.35 L672.6,415.47 L679.1,416.04 L685.5,416.63 L686.1,416.68 L692.0,417.21 L698.5,417.81 L700.9,418.03 L705.0,418.40 L711.5,419.00 L715.8,419.40 L717.9,419.59 L724.4,420.19 L730.6,420.76 L730.9,420.79 L737.4,421.38 L743.8,421.97 L745.4,422.11 L750.3,422.56 L756.8,423.14 L760.3,423.44 L763.3,423.71 L769.8,424.28 L775.1,424.74 L776.2,424.84 L782.7,425.40 L789.2,425.94 L789.9,426.00 L795.7,426.48 L802.1,427.00 L804.7,427.21 L808.6,427.52 L815.1,428.03 L819.6,428.37 L821.6,428.52 L828.1,429.00 L834.4,429.47 L834.5,429.48" stroke="#008000"/>
<path d="M212.7,428.73 L218.7,428.09 L219.1,428.05 L225.6,427.34 L230.5,426.79 L232.1,426.61 L238.6,425.86 L242.3,425.42 L245.1,425.09 L251.5,424.29 L254.1,423.96 L258.0,423.47 L264.5,422.63 L265.9,422.44 L271.0,421.78 L277.4,420.90 L277.7,420.86 L283.9,420.01 L289.5,419.23 L290.4,419.11 L296.9,418.20 L301.3,417.56 L303.4,417.27 L309.8,416.34 L313.1,415.86 L316.3,415.40 L322.8,414.46 L324.9,414.14 L329.3,413.52 L335.7,412.58 L336.7,412.43 L342.2,411.64 L348.6,410.73 L348.7,410.71 L355.2,409.79 L360.4,409.07 L361.7,408.89 L368.1,407.99 L372.2,407.45 L374.6,407.12 L381.1,406.27 L384.0,405.90 L387.6,405.44 L394.0,404.64 L395.8,404.43 L400.5,403.87 L407.0,403.13 L407.6,403.07 L413.5,402.43 L419.4,401.82 L420.0,401.76 L426.4,401.13 L431.2,400.70 L432.9,400.55 L439.4,400.01 L443.0,399.73 L445.9,399.52 L452.3,399.07 L454.8,398.92 L458.8,398.68 L465.3,398.34 L466.6,398.28 L471.8,398.05 L478.3,397.82 L478.4,397.81 L484.7,397.64 L490.2,397.53 L491.2,397.52 L497.7,397.45 L502.0,397.44 L504.2,397.44 L510.6,397.49 L513.8,397.53 L517.1,397.59 L523.6,397.75 L525.6,397.81 L530.1,397.97 L536.6,398.24 L537.4,398.28 L543.0,398.56 L549.2,398.92 L549.5,398.94 L556.0,399.36 L561.0,399.73 L562.5,399.84 L568.9,400.37 L572.8,400.70 L575.4,400.93 L581.9,401.55 L584.6,401.82 L588.4,402.20 L594.9,402.89 L596.4,403.07 L601.3,403.62 L607.8,404.38 L608.2,404.43 L614.3,405.17 L620.0,405.90 L620.8,405.99 L627.2,406.83 L631.9,407.45 L633.7,407.70 L640.2,408.59 L643.7,409.07 L646.7,409.49 L653.2,410.40 L655.5,410.73 L659.6,411.33 L666.1,412.26 L667.3,412.43 L672.6,413.20 L679.1,414.14 L679.1,414.14 L685.5,415.09 L690.9,415.86 L692.0,416.03 L698.5,416.96 L702.7,417.56 L705.0,417.89 L711.5,418.81 L714.5,419.23 L717.9,419.71 L724.4,420.61 L726.3,420.86 L730.9,421.49 L737.4,422.35 L738.1,422.44 L743.8,423.19 L749.9,423.96 L750.3,424.02 L756.8,424.82 L761.7,425.42 L763.3,425.60 L769.8,426.37 L773.5,426.79 L776.2,427.10 L782.7,427.82 L785.3,428.09 L789.2,428.50 L795.7,429.17 L797.1,429.31 L802.1,429.81 L808.6,430.42 L808.9,430.45 L815.1,431.01 L820.7,431.50 L821.6,431.57 L828.1,432.11 L832.5,432.46 L834.5,432.62" stroke="#00ffff"/>
<path d="M212.7,437.31 L219.1,437.07 L219.9,437.04 L225.6,436.81 L231.4,436.57 L232.1,436.53 L238.6,436.24 L242.9,436.03 L245.1,435.92 L251.5,435.59 L254.4,435.43 L258.0,435.23 L264.5,434.84 L265.9,434.76 L271.0,434.44 L277.4,434.01 L283.9,433.56 L289.0,433.18 L290.4,433.08 L296.9,432.57 L300.5,432.28 L303.4,432.04 L309.8,431.48 L312.0,431.29 L316.3,430.89 L322.8,430.28 L323.5,430.21 L329.3,429.64 L335.0,429.05 L335.7,428.97 L342.2,428.28 L346.5,427.80 L348.7,427.55 L355.2,426.81 L358.1,426.47 L361.7,426.03 L368.1,425.23 L369.6,425.05 L374.6,424.41 L381.1,423.56 L387.6,422.70 L392.6,422.01 L394.0,421.81 L400.5,420.90 L404.1,420.39 L407.0,419.97 L413.5,419.03 L415.6,418.71 L420.0,418.08 L426.4,417.11 L427.2,417.00 L432.9,416.13 L438.7,415.26 L439.4,415.15 L445.9,414.16 L450.2,413.50 L452.3,413.17 L458.8,412.18 L461.7,411.74 L465.3,411.20 L471.8,410.22 L473.2,410.00 L478.3,409.25 L484.7,408.29 L491.2,407.35 L496.2,406.64 L497.7,406.43 L504.2,405.54 L507.8,405.05 L510.6,404.66 L517.1,403.82 L519.3,403.54 L523.6,403.01 L530.1,402.23 L530.8,402.15 L536.6,401.49 L542.3,400.87 L543.0,400.79 L549.5,400.13 L553.8,399.72 L556.0,399.52 L562.5,398.96 L565.3,398.73 L568.9,398.45 L575.4,397.99 L576.9,397.90 L581.9,397.59 L588.4,397.24 L594.9,396.95 L599.9,396.76 L601.3,396.71 L607.8,396.54 L611.4,396.47 L614.3,396.43 L620.8,396.38 L622.9,396.38 L627.2,396.39 L633.7,396.46 L634.4,396.47 L640.2,396.59 L646.0,396.76 L646.7,396.78 L653.2,397.04 L657.5,397.24 L659.6,397.35 L666.1,397.71 L669.0,397.90 L672.6,398.14 L679.1,398.61 L680.5,398.73 L685.5,399.14 L692.0,399.72 L698.5,400.35 L703.5,400.87 L705.0,401.02 L711.5,401.73 L715.1,402.15 L717.9,402.48 L724.4,403.27 L726.6,403.54 L730.9,404.10 L737.4,404.95 L738.1,405.05 L743.8,405.83 L749.6,406.64 L750.3,406.74 L756.8,407.67 L761.1,408.29 L763.3,408.61 L769.8,409.57 L772.6,410.00 L776.2,410.54 L782.7,411.52 L784.2,411.74 L789.2,412.51 L795.7,413.50 L802.1,414.49 L807.2,415.26 L808.6,415.48 L815.1,416.46 L818.7,417.00 L821.6,417.43 L828.1,418.40 L830.2,418.71 L834.5,419.35" stroke="#ffff00"/>
<path d="M212.7,439.70 L217.0,439.68 L219.1,439.66 L225.6,439.62 L225.6,439.62 L232.1,439.57 L234.3,439.55 L238.6,439.51 L242.9,439.47 L245.1,439.45 L251.5,439.37 L258.0,439.29 L260.2,439.26 L264.5,439.19 L268.8,439.11 L271.0,439.08 L277.4,438.95 L277.4,438.95 L283.9,438.80 L286.1,438.75 L290.4,438.64 L294.7,438.52 L296.9,438.45 L303.4,438.24 L303.4,438.24 L309.8,438.01 L312.0,437.92 L316.3,437.75 L320.6,437.56 L322.8,437.45 L329.3,437.13 L335.7,436.77 L337.9,436.64 L342.2,436.37 L346.5,436.09 L348.7,435.93 L355.2,435.45 L355.2,435.45 L361.7,434.93 L363.8,434.74 L368.1,434.35 L372.4,433.94 L374.6,433.72 L381.1,433.04 L387.6,432.30 L389.7,432.05 L394.0,431.51 L398.4,430.95 L400.5,430.65 L407.0,429.74 L407.0,429.74 L413.5,428.76 L415.6,428.42 L420.0,427.71 L424.3,426.98 L426.4,426.60 L432.9,425.43 L439.4,424.19 L441.5,423.76 L445.9,422.89 L450.2,421.99 L452.3,421.53 L458.8,420.10 L465.3,418.62 L467.5,418.12 L471.8,417.09 L476.1,416.04 L478.3,415.51 L484.7,413.88 L484.7,413.88 L491.2,412.22 L493.4,411.65 L497.7,410.52 L502.0,409.37 L504.2,408.79 L510.6,407.04 L517.1,405.29 L519.3,404.70 L523.6,403.53 L527.9,402.36 L530.1,401.77 L536.6,400.04 L536.6,400.04 L543.0,398.32 L545.2,397.76 L549.5,396.64 L553.8,395.55 L556.0,395.01 L562.5,393.43 L568.9,391.92 L571.1,391.43 L575.4,390.47 L579.7,389.56 L581.9,389.12 L588.4,387.85 L594.9,386.69 L597.0,386.33 L601.3,385.64 L605.7,385.00 L607.8,384.70 L614.3,383.89 L614.3,383.89 L620.8,383.21 L622.9,383.02 L627.2,382.67 L631.6,382.38 L633.7,382.26 L640.2,382.00 L646.7,381.87 L648.8,381.87 L653.2,381.90 L657.5,382.00 L659.6,382.07 L666.1,382.38 L666.1,382.38 L672.6,382.83 L674.7,383.02 L679.1,383.43 L683.4,383.89 L685.5,384.15 L692.0,385.00 L698.5,385.98 L700.7,386.33 L705.0,387.07 L709.3,387.85 L711.5,388.26 L717.9,389.56 L724.4,390.95 L726.6,391.43 L730.9,392.41 L735.2,393.43 L737.4,393.95 L743.8,395.55 L743.8,395.55 L750.3,397.20 L752.5,397.76 L756.8,398.89 L761.1,400.04 L763.3,400.61 L769.8,402.36 L776.2,404.11 L778.4,404.70 L782.7,405.87 L787.0,407.04 L789.2,407.63 L795.7,409.37 L795.7,409.37 L802.1,411.09 L804.3,411.65 L808.6,412.77 L812.9,413.88 L815.1,414.43 L821.6,416.04 L828.1,417.61 L830.2,418.12 L834.5,419.12" stroke="#a52a2a"/>
</g></g>
<rect x="221.3" y="46.85" width="604.5999999999999" height="393.04999999999995" fill="none" stroke="#000" stroke-width="3.8"/>
<line x1="221.30" y1="439.9" x2="221.30" y2="446.4" stroke="#000" stroke-width="1.2"/>
<line x1="307.67" y1="439.9" x2="307.67" y2="446.4" stroke="#000" stroke-width="1.2"/>
<line x1="394.04" y1="439.9" x2="394.04" y2="446.4" stroke="#000" stroke-width="1.2"/>
<line x1="480.41" y1="439.9" x2="480.41" y2="446.4" stroke="#000" stroke-width="1.2"/>
<line x1="566.79" y1="439.9" x2="566.79" y2="446.4" stroke="#000" stroke-width="1.2"/>
<line x1="653.16" y1="439.9" x2="653.16" y2="446.4" stroke="#000" stroke-width="1.2"/>
<line x1="739.53" y1="439.9" x2="739.53" y2="446.4" stroke="#000" stroke-width="1.2"/>
<line x1="825.90" y1="439.9" x2="825.90" y2="446.4" stroke="#000" stroke-width="1.2"/>
<line x1="214.8" y1="46.85" x2="221.3" y2="46.85" stroke="#000" stroke-width="1.2"/>
<line x1="214.8" y1="439.9" x2="221.3" y2="439.9" stroke="#000" stroke-width="1.2"/>
<g font-family="'Liberation Serif', serif">
<text x="208.00" y="472" font-size="27.5" fill="#000" text-anchor="start" textLength="26.6" lengthAdjust="spacingAndGlyphs">64</text>
<text x="294.37" y="472" font-size="27.5" fill="#000" text-anchor="start" textLength="26.6" lengthAdjust="spacingAndGlyphs">66</text>
<text x="380.74" y="472" font-size="27.5" fill="#000" text-anchor="start" textLength="26.6" lengthAdjust="spacingAndGlyphs">68</text>
<text x="467.11" y="472" font-size="27.5" fill="#000" text-anchor="start" textLength="26.6" lengthAdjust="spacingAndGlyphs">70</text>
<text x="553.49" y="472" font-size="27.5" fill="#000" text-anchor="start" textLength="26.6" lengthAdjust="spacingAndGlyphs">72</text>
<text x="639.86" y="472" font-size="27.5" fill="#000" text-anchor="start" textLength="26.6" lengthAdjust="spacingAndGlyphs">74</text>
<text x="726.23" y="472" font-size="27.5" fill="#000" text-anchor="start" textLength="26.6" lengthAdjust="spacingAndGlyphs">76</text>
<text x="812.60" y="472" font-size="27.5" fill="#000" text-anchor="start" textLength="26.6" lengthAdjust="spacingAndGlyphs">78</text>
<text x="338.1" y="32.3" font-size="27" font-weight="bold" fill="#000" text-anchor="start" textLength="88.3" lengthAdjust="spacingAndGlyphs">Recent</text>
<text x="439.9" y="32.3" font-size="27" font-weight="bold" fill="#000" text-anchor="start" textLength="128.1" lengthAdjust="spacingAndGlyphs">Published</text>
<text x="580.4" y="32.3" font-size="27" font-weight="bold" fill="#000" text-anchor="start" textLength="22.5" lengthAdjust="spacingAndGlyphs">H</text>
<text x="604.0" y="36.6" font-size="19" fill="#000" text-anchor="start" textLength="8.6" lengthAdjust="spacingAndGlyphs">0</text>
<text x="624.4" y="32.3" font-size="27" font-weight="bold" fill="#000" text-anchor="start" textLength="84.7" lengthAdjust="spacingAndGlyphs">Values</text>
<text x="507.7" y="498.6" font-size="28" font-weight="bold" fill="#000" text-anchor="start" textLength="22" lengthAdjust="spacingAndGlyphs">H</text>
<text x="530.7" y="503.3" font-size="19" fill="#000" text-anchor="start" textLength="9.3" lengthAdjust="spacingAndGlyphs">0</text>
<g transform="translate(197.5,394.4) rotate(-90)">
<text x="0" y="0" font-size="23" font-weight="bold" fill="#000" text-anchor="start" textLength="86.2" lengthAdjust="spacingAndGlyphs">Relative</text>
<text x="95" y="0" font-size="23" font-weight="bold" fill="#000" text-anchor="start" textLength="115.8" lengthAdjust="spacingAndGlyphs">Probability</text>
<text x="221.8" y="0" font-size="23" font-weight="bold" fill="#000" text-anchor="start" textLength="80.2" lengthAdjust="spacingAndGlyphs">Density</text>
</g>
<text x="256.8" y="151.7" font-size="23" font-weight="bold" fill="#000" text-anchor="start" textLength="71.3" lengthAdjust="spacingAndGlyphs">Planck</text>
<text x="443.9" y="297.2" font-size="23" font-weight="bold" fill="#ea3323" text-anchor="start" textLength="69.6" lengthAdjust="spacingAndGlyphs">TRGB</text>
<text x="685.9" y="348.9" font-size="23" font-weight="bold" fill="#0000f5" text-anchor="start" textLength="96.2" lengthAdjust="spacingAndGlyphs">Cepheids</text>
<text x="241.4" y="296.8" font-size="23" font-weight="bold" fill="#f2a93b" text-anchor="start" textLength="46.8" lengthAdjust="spacingAndGlyphs">DES</text>
<text x="296.8" y="296.8" font-size="23" font-weight="bold" fill="#f2a93b" text-anchor="start" textLength="29.8" lengthAdjust="spacingAndGlyphs">Y3</text>
<text x="240.7" y="323.7" font-size="35" fill="#f2a93b" text-anchor="start">+</text>
<text x="260.2" y="317.8" font-size="23" font-weight="bold" fill="#f2a93b" text-anchor="start" textLength="52.2" lengthAdjust="spacingAndGlyphs">BAO</text>
<text x="240.7" y="345.0" font-size="35" fill="#f2a93b" text-anchor="start">+</text>
<text x="260.2" y="339.1" font-size="23" font-weight="bold" fill="#f2a93b" text-anchor="start" textLength="51.4" lengthAdjust="spacingAndGlyphs">BBN</text>
<line x1="614.2" y1="69.80" x2="654.4" y2="69.80" stroke="#000000" stroke-width="3.4"/>
<text x="666.8" y="75.90" font-size="18.8" fill="#000" text-anchor="start" textLength="53.2" lengthAdjust="spacingAndGlyphs">Planck</text>
<line x1="614.2" y1="94.96" x2="654.4" y2="94.96" stroke="#ea3323" stroke-width="3.4"/>
<text x="666.8" y="101.06" font-size="18.8" fill="#000" text-anchor="start" textLength="52.8" lengthAdjust="spacingAndGlyphs">TRGB</text>
<line x1="614.2" y1="120.12" x2="654.4" y2="120.12" stroke="#0000f5" stroke-width="3.4"/>
<text x="666.8" y="126.22" font-size="18.8" fill="#000" text-anchor="start" textLength="71.7" lengthAdjust="spacingAndGlyphs">Cepheids</text>
<line x1="614.2" y1="145.28" x2="654.4" y2="145.28" stroke="#8719cb" stroke-width="3.4"/>
<text x="666.8" y="151.38" font-size="18.8" fill="#000" text-anchor="start" textLength="61.3" lengthAdjust="spacingAndGlyphs">Lensing</text>
<line x1="614.2" y1="170.44" x2="654.4" y2="170.44" stroke="#f2a93b" stroke-width="3.4"/>
<text x="666.8" y="176.54" font-size="18.8" fill="#000" text-anchor="start" textLength="143.1" lengthAdjust="spacingAndGlyphs">DES+BAO+BBN</text>
<line x1="614.2" y1="195.60" x2="654.4" y2="195.60" stroke="#377e21" stroke-width="3.4"/>
<text x="666.8" y="201.70" font-size="18.8" fill="#000" text-anchor="start" textLength="86.5" lengthAdjust="spacingAndGlyphs">GW Sirens</text>
<line x1="614.2" y1="220.76" x2="654.4" y2="220.76" stroke="#ffff54" stroke-width="3.4"/>
<text x="666.8" y="226.86" font-size="18.8" fill="#000" text-anchor="start" textLength="45.4" lengthAdjust="spacingAndGlyphs">Miras</text>
<line x1="614.2" y1="245.92" x2="654.4" y2="245.92" stroke="#75fbfd" stroke-width="3.4"/>
<text x="666.8" y="252.02" font-size="18.8" fill="#000" text-anchor="start" textLength="35.2" lengthAdjust="spacingAndGlyphs">SBF</text>
<line x1="614.2" y1="271.08" x2="654.4" y2="271.08" stroke="#d48fe6" stroke-width="3.4"/>
<text x="666.8" y="277.18" font-size="18.8" fill="#000" text-anchor="start" textLength="55.5" lengthAdjust="spacingAndGlyphs">Masers</text>
<line x1="614.2" y1="296.24" x2="654.4" y2="296.24" stroke="#983430" stroke-width="3.4"/>
<text x="666.8" y="302.34" font-size="18.8" fill="#000" text-anchor="start" textLength="43.6" lengthAdjust="spacingAndGlyphs">SN II</text>
</g>
</svg>
<div class="ln" style="top:514.10px"><b>Figure 10.</b> Relative PDFs for several current methods for measuring <i>H</i><sub>0</sub>. The CMB, BAO, strong lensing, and TRGB methods currently yield lower values of <i>H</i><sub>0</sub>,</div>
<div class="ln" style="top:530.25px">while Cepheids yield the highest values. The uncertainties associated with <i>H</i><sub>0</sub> measurements from gravitational-wave sirens, strong lensing, Miras, masers, and SBF</div>
<div class="ln" style="top:546.40px">are currently significantly larger than the errors quoted for the TRGB and Cepheids. See text for details. (CMB: Planck Collaboration 2018; TRGB: this paper;</div>
<div class="ln" style="top:562.55px">Cepheids: <span class="b">R21</span>; lensing: Birrer et al. <span class="b">2020</span>; DES Y3 <span class="p">+</span> BAO <span class="p">+</span> BBN: DES Collaboration et al. <span class="b">2021</span>; GW sirens: Hotokezaka et al. <span class="b">2019</span>; Miras: Huang et al. <span class="b">2018</span>;</div>
<div class="ln last" style="top:578.70px">SBF: Khetan et al. <span class="b">2021</span>; masers: Reid et al. <span class="b">2019</span>).</div>
</body></html>
